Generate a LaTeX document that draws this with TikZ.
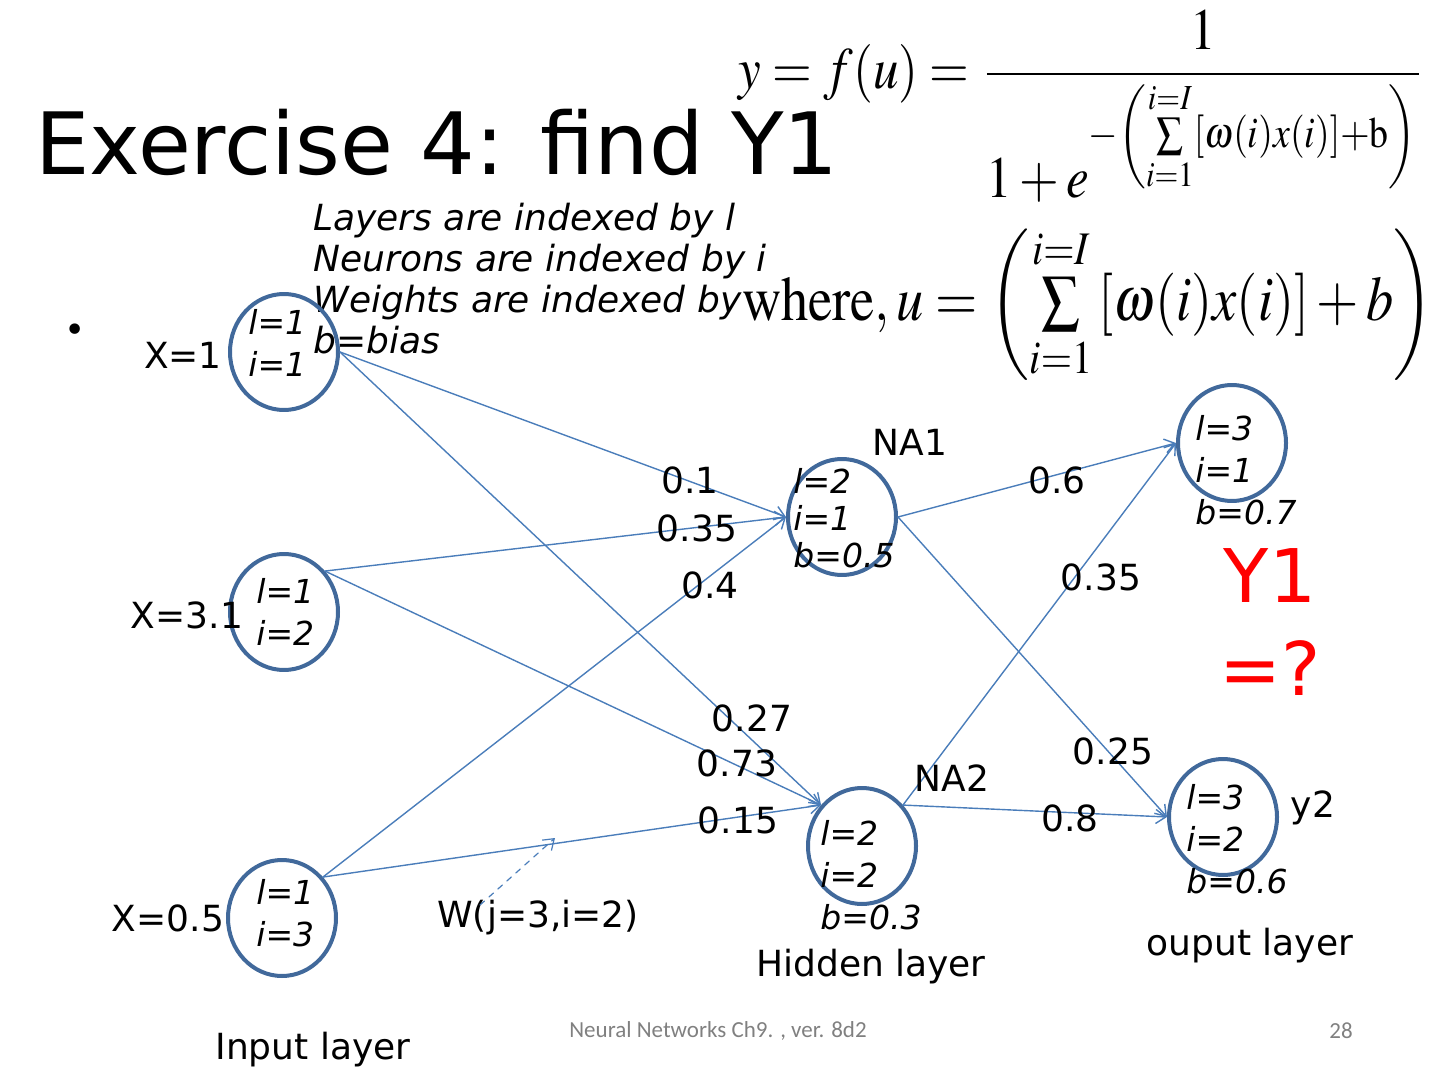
\documentclass[tikz,border=0pt]{standalone}
\usepackage{amsmath}
\usepackage{mathptmx}
\usepackage[no-math]{fontspec}
\setmainfont{DejaVu Sans}
\newfontfamily\footfont{Carlito}
\usepackage{graphicx}
\usetikzlibrary{arrows.meta,shapes.geometric}

\definecolor{nnRing}{HTML}{41699B}
\definecolor{nnEdge}{HTML}{4A7DBA}

\begin{document}
\begin{tikzpicture}[x=0.5pt, y=-0.5pt, >={Straight Barb[length=5pt,width=7pt]}, line cap=round, line join=round]

% ---------- styles (safe names) ----------
\tikzset{
  nnNeuron/.style ={draw=nnRing, line width=2pt, ellipse, minimum width=54pt, minimum height=58pt, inner sep=0pt},
  nnIdx/.style    ={font=\fontsize{16.5}{21}\selectfont\itshape, align=left, anchor=west, inner sep=0pt},
  nnWeight/.style ={font=\fontsize{18}{22}\selectfont, inner sep=0pt},
  nnLink/.style   ={draw=nnEdge, line width=0.7pt, ->}
}

\useasboundingbox (0,0) rectangle (1440,1080);

% ---------- title and formulas ----------
\node[anchor=base west, inner sep=0pt, font=\fontsize{43}{50}\selectfont] (title) at (35,175) {Exercise 4: find Y1};

\node[inner sep=0pt] (sigmoid) at (1082,106)
  {\resizebox*{343pt}{96pt}{$y=f(u)=\dfrac{1}{1+e^{-\left(\sum\limits_{i=1}^{i=I}\left[\omega(i)x(i)\right]+\mathrm{b}\right)}}$}};
\node[inner sep=0pt] (uDef) at (1088,304)
  {\resizebox*{346pt}{76pt}{$\mathrm{where,}\,u=\left(\sum\limits_{i=1}^{i=I}\left[\omega(i)x(i)\right]+b\right)$}};

% bullet and index notes
\node[font=\fontsize{18}{20}\selectfont] (bullet) at (75,333) {•};
\node[anchor=west, align=left, inner sep=0pt, font=\fontsize{18}{20.5}\selectfont\itshape] (notes) at (313,279)
  {Layers are indexed by l\\Neurons are indexed by i\\Weights are indexed by\\b=bias};

% ---------- neurons ----------
\node[nnNeuron] (inA)  at (284,352) {};
\node[nnNeuron] (inB)  at (284,612) {};
\node[nnNeuron] (inC)  at (282,918) {};
\node[nnNeuron] (hidA) at (842,517) {};
\node[nnNeuron] (hidB) at (862,846) {};
\node[nnNeuron] (outA) at (1232,443) {};
\node[nnNeuron] (outB) at (1223,817) {};

% index texts (they spill over the rings)
\node[nnIdx] (inAtxt)  at (248,343) {l=1\\i=1};
\node[nnIdx] (inBtxt)  at (256,612) {l=1\\i=2};
\node[nnIdx] (inCtxt)  at (256,913) {l=1\\i=3};
\node[nnIdx, font=\fontsize{16.5}{18.5}\selectfont\itshape] (hidAtxt) at (793,518) {l=2\\i=1\\b=0.5};
\node[nnIdx] (hidBtxt) at (820,875) {l=2\\i=2\\b=0.3};
\node[nnIdx] (outAtxt) at (1195,470) {l=3\\i=1\\b=0.7};
\node[nnIdx] (outBtxt) at (1186,839) {l=3\\i=2\\b=0.6};

% inputs
\node[nnWeight] (xA) at (183,355) {X=1};
\node[nnWeight] (xB) at (187,615) {X=3.1};
\node[nnWeight] (xC) at (168,918) {X=0.5};

% ---------- connections ----------
\draw[nnLink] (inA.east) -- (hidA.west);
\draw[nnLink] (inA.east) -- (hidB.135);
\draw[nnLink] (inB.45)   -- (hidA.west);
\draw[nnLink] (inB.45)   -- (hidB.135);
\draw[nnLink] (inC.45)   -- (hidA.west);
\draw[nnLink] (inC.45)   -- (hidB.135);
\draw[nnLink] (hidA.east) -- (outA.west);
\draw[nnLink] (hidA.east) -- (outB.west);
\draw[nnLink] (hidB.45)   -- (outA.west);
\draw[nnLink] (hidB.45)   -- (outB.west);

% weights
\node[nnWeight] (wA1) at (690,480) {0.1};
\node[nnWeight] (wB1) at (697,528) {0.35};
\node[nnWeight] (wC1) at (710,585) {0.4};
\node[nnWeight] (wA2) at (752,718) {0.27};
\node[nnWeight] (wB2) at (737,763) {0.73};
\node[nnWeight] (wC2) at (738,820) {0.15};
\node[nnWeight] (vA1) at (1057,480) {0.6};
\node[nnWeight] (vB1) at (1101,577) {0.35};
\node[nnWeight] (vA2) at (1113,751) {0.25};
\node[nnWeight] (vB2) at (1070,818) {0.8};

\node[nnWeight] (naA) at (910,442) {NA1};
\node[nnWeight] (naB) at (952,778) {NA2};
\node[nnWeight] (yB)  at (1313,808) {y2};

% weight pointer
\node[nnWeight] (wName) at (538,918) {W(j=3,i=2)};
\coordinate (wTail) at (480,905);
\coordinate (wHead) at (555,838);
\draw[nnLink, dashed, line width=0.6pt] (wTail) -- (wHead);

% question
\node[align=center, inner sep=0pt, text=red, font=\fontsize{37}{46.5}\selectfont] (askY) at (1270,622) {Y1\\=?};

% ---------- layer names and footer ----------
\node[nnWeight] (hidName) at (871,967) {Hidden layer};
\node[nnWeight] (outName) at (1250,946) {ouput layer};
\node[nnWeight] (inName)  at (313,1050) {Input layer};

\node[inner sep=0pt, text=gray, font=\footfont\fontsize{11.5}{13}\selectfont] (footer) at (718,1031) {Neural Networks Ch9. , ver. 8d2};
\node[inner sep=0pt, text=gray, font=\footfont\fontsize{11.5}{13}\selectfont] (pageNo) at (1341,1031) {28};

\end{tikzpicture}
\end{document}
